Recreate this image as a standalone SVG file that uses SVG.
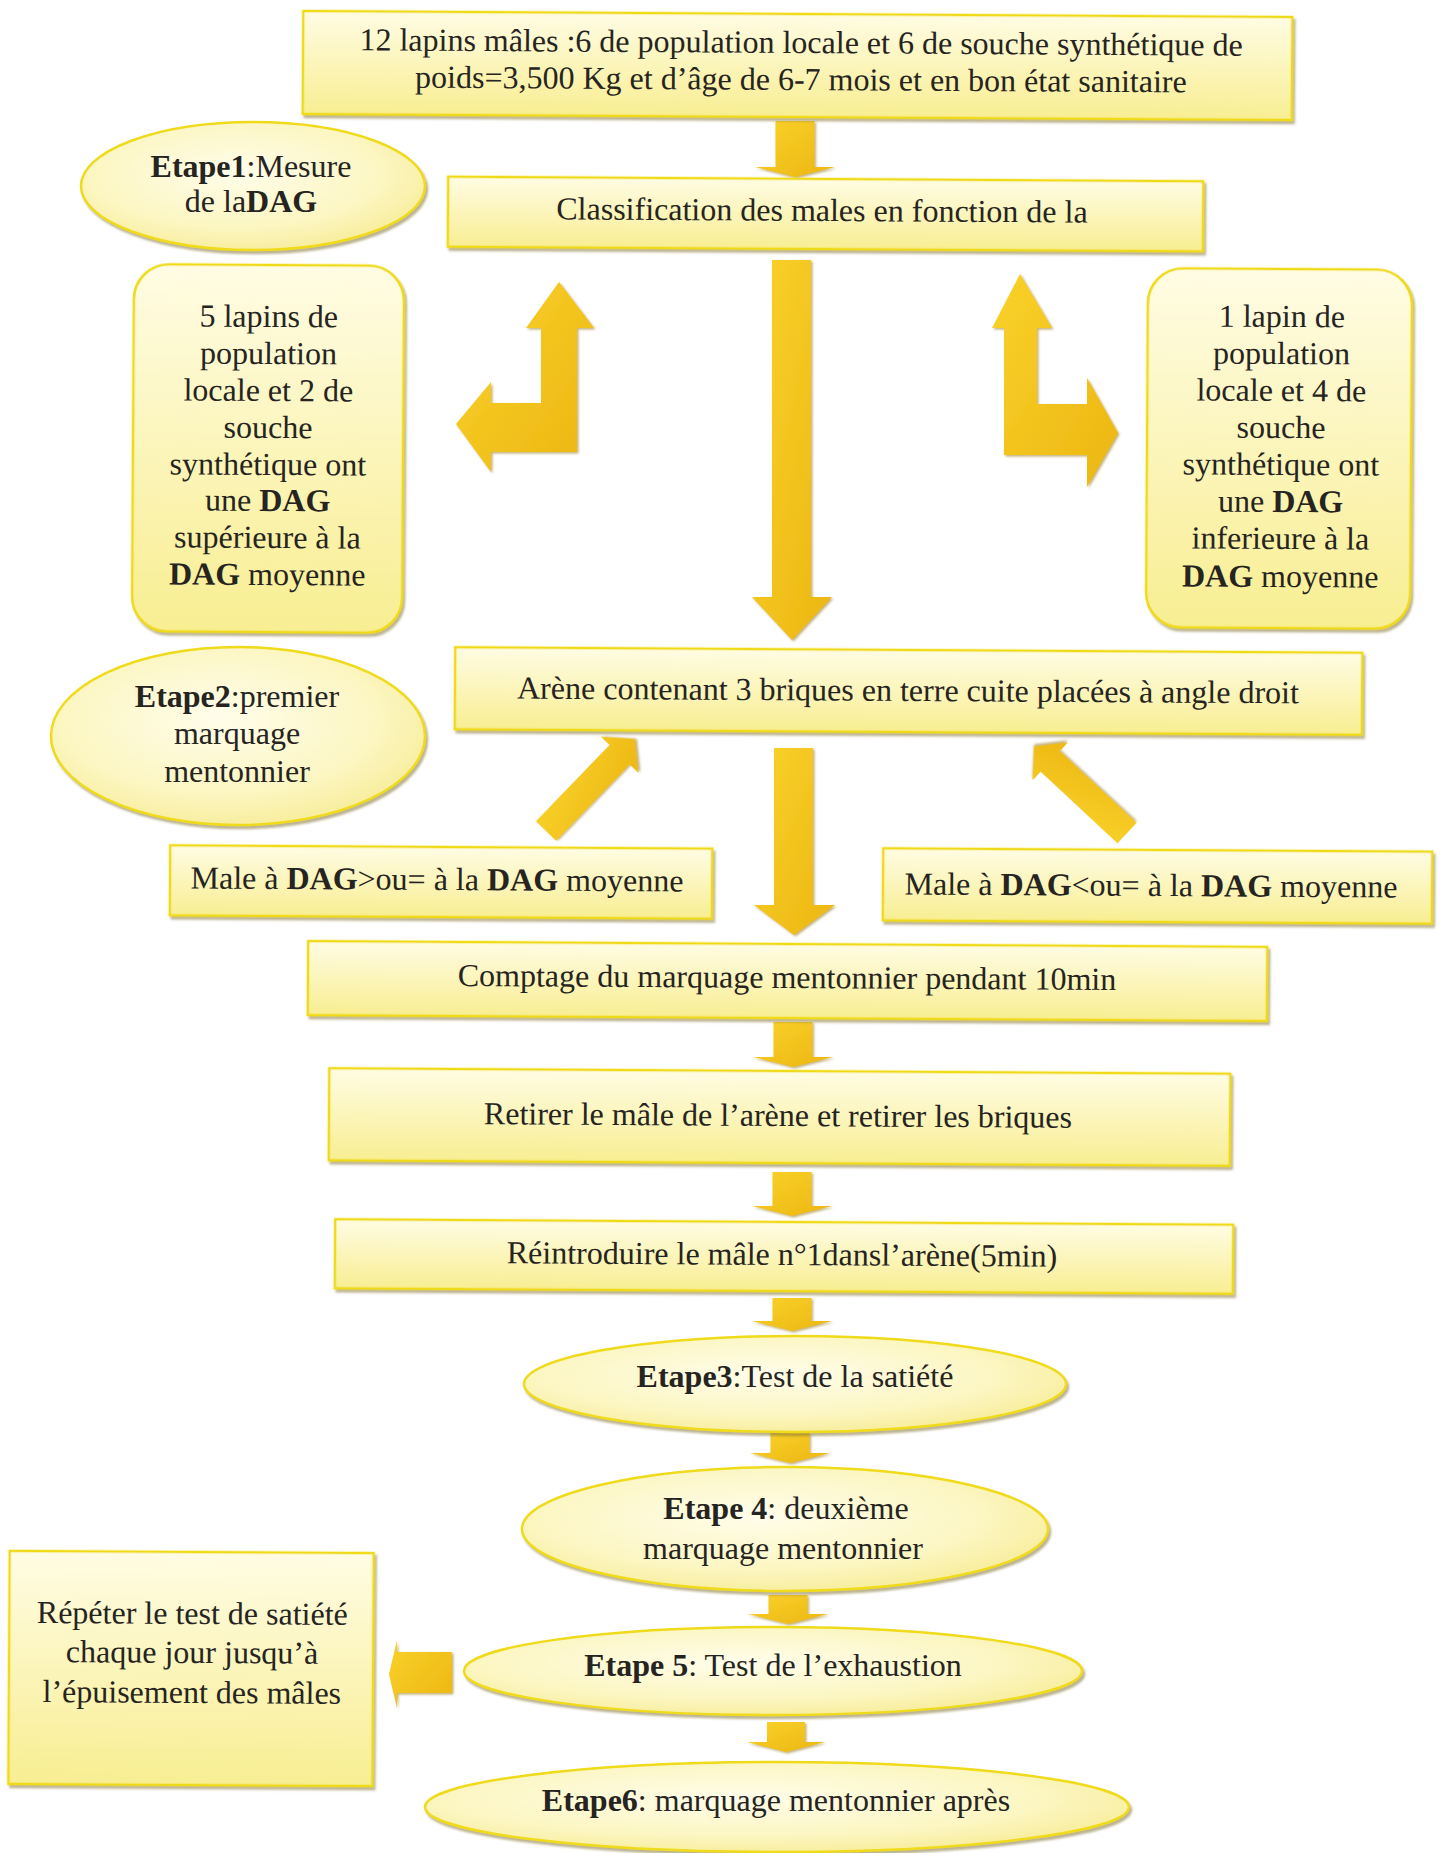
<svg xmlns="http://www.w3.org/2000/svg" width="1440" height="1853" viewBox="0 0 1440 1853">
<defs>
  <linearGradient id="gBox" x1="0" y1="0" x2="0" y2="1">
    <stop offset="0" stop-color="#FFFCE4"/>
    <stop offset="1" stop-color="#F8EE92"/>
  </linearGradient>
  <radialGradient id="gEll" cx="0.45" cy="0.4" r="0.65">
    <stop offset="0" stop-color="#FFFDEA"/>
    <stop offset="0.65" stop-color="#FCF6C2"/>
    <stop offset="1" stop-color="#F7EC96"/>
  </radialGradient>
  <linearGradient id="gArr" x1="0" y1="0" x2="1" y2="1">
    <stop offset="0" stop-color="#F9D22A"/>
    <stop offset="1" stop-color="#ECB612"/>
  </linearGradient>
  <filter id="sh" x="-5%" y="-5%" width="110%" height="120%">
    <feDropShadow dx="2" dy="3" stdDeviation="1.2" flood-color="#857535" flood-opacity="0.55"/>
  </filter>
  <filter id="ash" x="-10%" y="-10%" width="125%" height="125%">
    <feDropShadow dx="1.5" dy="1.5" stdDeviation="0.8" flood-color="#9A7A20" flood-opacity="0.6"/>
  </filter>
</defs>
<style>
  .box{fill:url(#gBox);stroke:#F0DA14;stroke-width:2.5;filter:url(#sh)}
  .ell{fill:url(#gEll);stroke:#EFDA1A;stroke-width:2.5;filter:url(#sh)}
  .arr{fill:url(#gArr);filter:url(#ash)}
  text{font-family:"Liberation Serif","Times New Roman",serif;font-size:32px;fill:#262421;text-anchor:middle}
  .b{font-weight:bold}
</style>
<rect width="1440" height="1853" fill="#FFFFFF"/>

<g id="connectors">
  <polygon class="arr" points="775.5,121 814.5,121 814.5,167 835,167 795,177 755,167 775.5,167"/>
  <polygon class="arr" points="772,260 811,260 811,597 832,597 792,640 752,597 772,597"/>
  <polygon class="arr" points="559,282 594,328 577,328 577,452 491,452 491,472 456,424 491,382 491,403 541,403 541,328 526,328"/>
  <polygon class="arr" points="1020,274 1052,328 1037,328 1037,404 1087,404 1087,378 1118,433 1087,487 1087,455 1004,455 1004,328 992,328"/>
  <polygon class="arr" transform="translate(546 831) rotate(-46)" points="0,-14 106,-14 106,-26 128,0 106,26 106,14 0,14"/>
  <polygon class="arr" transform="translate(1127 833) rotate(-137)" points="0,-14 105,-14 105,-26 127,0 105,26 105,14 0,14"/>
  <polygon class="arr" points="774,748 813,748 813,905 835,905 794,935 754,905 774,905"/>
  <polygon class="arr" points="773.5,1022 812.5,1022 812.5,1057 833,1057 793,1067 753,1057 773.5,1057"/>
  <polygon class="arr" points="772.5,1172 811.5,1172 811.5,1206 832,1206 792,1216 752,1206 772.5,1206"/>
  <polygon class="arr" points="772.5,1298 811.5,1298 811.5,1321 832,1321 792,1331 752,1321 772.5,1321"/>
  <polygon class="arr" points="770.5,1433 809.5,1433 809.5,1453 830,1453 790,1463 750,1453 770.5,1453"/>
  <polygon class="arr" points="768.5,1595 807.5,1595 807.5,1614 828,1614 788,1624 748,1614 768.5,1614"/>
  <polygon class="arr" points="767,1722 805,1722 805,1742 825,1742 786,1752 747,1742 767,1742"/>
  <polygon class="arr" points="452,1652 452,1693 397,1693 397,1708 389,1674 397,1640 397,1652"/>
</g>

<g id="n-top" transform="rotate(0.35 797 65)">
  <rect class="box" x="303" y="14" width="989" height="103"/>
  <text x="801" y="53">12 lapins mâles :6 de population locale et 6 de souche synthétique de</text>
  <text x="801" y="90">poids=3,500 Kg et d’âge de 6-7 mois et en bon état sanitaire</text>
</g>

<g id="n-etape1">
  <ellipse class="ell" cx="253" cy="186" rx="172" ry="64"/>
  <text x="251" y="177"><tspan class="b">Etape1</tspan>:Mesure</text>
  <text x="251" y="212">de la<tspan class="b">DAG</tspan></text>
</g>

<g id="n-classification" transform="rotate(0.35 825 214)">
  <rect class="box" x="448" y="179" width="755" height="70"/>
  <text x="822" y="221">Classification des males en fonction de la</text>
</g>

<g id="n-superieur" transform="rotate(0.35 268 448)">
  <rect class="box" x="133" y="265" width="270" height="367" rx="35" ry="35"/>
  <text x="268" y="327">5 lapins de</text>
  <text x="268" y="364">population</text>
  <text x="268" y="401">locale et 2 de</text>
  <text x="268" y="438">souche</text>
  <text x="268" y="475">synthétique ont</text>
  <text x="268" y="511">une <tspan class="b">DAG</tspan></text>
  <text x="268" y="548">supérieure à la</text>
  <text x="268" y="585"><tspan class="b">DAG</tspan> moyenne</text>
</g>

<g id="n-inferieur" transform="rotate(0.35 1279 448)">
  <rect class="box" x="1147" y="269" width="264" height="359" rx="35" ry="35"/>
  <text x="1281" y="327">1 lapin de</text>
  <text x="1281" y="364">population</text>
  <text x="1281" y="401">locale et 4 de</text>
  <text x="1281" y="438">souche</text>
  <text x="1281" y="475">synthétique ont</text>
  <text x="1281" y="512">une <tspan class="b">DAG</tspan></text>
  <text x="1281" y="549">inferieure à la</text>
  <text x="1281" y="587"><tspan class="b">DAG</tspan> moyenne</text>
</g>

<g id="n-etape2">
  <ellipse class="ell" cx="238" cy="736" rx="187" ry="89"/>
  <text x="237" y="707"><tspan class="b">Etape2</tspan>:premier</text>
  <text x="237" y="744">marquage</text>
  <text x="237" y="782">mentonnier</text>
</g>

<g id="n-arene" transform="rotate(0.35 908 691)">
  <rect class="box" x="455" y="650" width="907" height="82"/>
  <text x="908" y="701">Arène contenant 3 briques en terre cuite placées à angle droit</text>
</g>

<g id="n-male-sup" transform="rotate(0.35 441 882)">
  <rect class="box" x="170" y="847" width="542" height="70"/>
  <text x="437" y="890">Male à <tspan class="b">DAG</tspan>&gt;ou= à la <tspan class="b">DAG</tspan> moyenne</text>
</g>

<g id="n-male-inf" transform="rotate(0.35 1157 886)">
  <rect class="box" x="883" y="850" width="549" height="72"/>
  <text x="1151" y="896">Male à <tspan class="b">DAG</tspan>&lt;ou= à la <tspan class="b">DAG</tspan> moyenne</text>
</g>

<g id="n-comptage" transform="rotate(0.35 787 981)">
  <rect class="box" x="308" y="944" width="959" height="74"/>
  <text x="787" y="988">Comptage du marquage mentonnier pendant 10min</text>
</g>

<g id="n-retirer" transform="rotate(0.35 779 1117)">
  <rect class="box" x="329" y="1071" width="901" height="92"/>
  <text x="778" y="1126">Retirer le mâle de l’arène et retirer les briques</text>
</g>

<g id="n-reintroduire" transform="rotate(0.35 784 1256)">
  <rect class="box" x="335" y="1222" width="898" height="69"/>
  <text x="782" y="1265">Réintroduire le mâle n°1dansl’arène(5min)</text>
</g>

<g id="n-etape3">
  <ellipse class="ell" cx="795" cy="1384" rx="271" ry="48"/>
  <text x="795" y="1387"><tspan class="b">Etape3</tspan>:Test de la satiété</text>
</g>

<g id="n-etape4">
  <ellipse class="ell" cx="785" cy="1529" rx="263" ry="62"/>
  <text x="786" y="1519"><tspan class="b">Etape 4</tspan>: deuxième</text>
  <text x="783" y="1559">marquage mentonnier</text>
</g>

<g id="n-etape5">
  <ellipse class="ell" cx="773" cy="1671" rx="309" ry="44"/>
  <text x="773" y="1676"><tspan class="b">Etape 5</tspan>: Test de l’exhaustion</text>
</g>

<g id="n-repeter" transform="rotate(0.35 191 1668)">
  <rect class="box" x="9" y="1552" width="364" height="233"/>
  <text x="192" y="1624">Répéter le test de satiété</text>
  <text x="192" y="1663">chaque jour jusqu’à</text>
  <text x="192" y="1703">l’épuisement des mâles</text>
</g>

<g id="n-etape6">
  <ellipse class="ell" cx="777" cy="1807" rx="352" ry="45"/>
  <text x="776" y="1811"><tspan class="b">Etape6</tspan>: marquage mentonnier après</text>
</g>
</svg>
